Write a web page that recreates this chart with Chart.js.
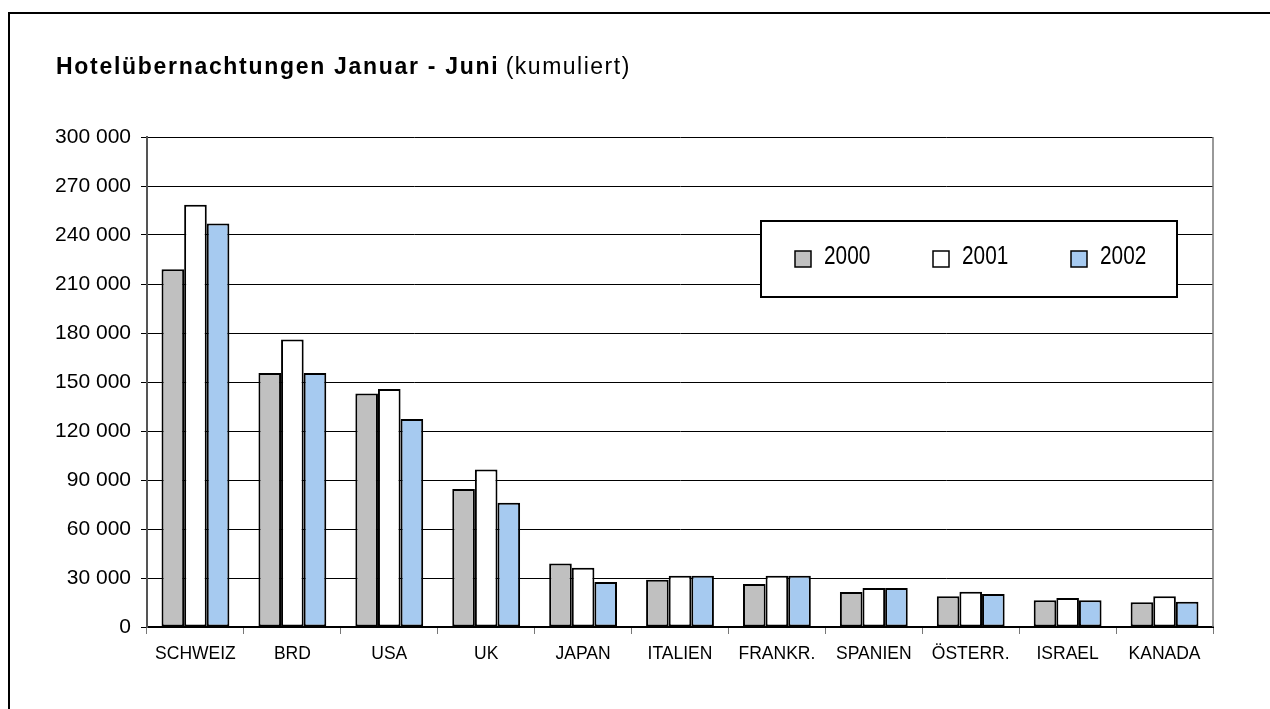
<!DOCTYPE html>
<html>
<head>
<meta charset="utf-8">
<script src="https://cdn.jsdelivr.net/npm/chart.js@4"></script>
<style>
  html, body { margin: 0; padding: 0; background: #fff; overflow: hidden; }
  #wrap { position: relative; width: 1270px; height: 709px; }
  #frame { position: absolute; left: 8px; top: 12px; width: 1400px; height: 900px; border: 2px solid #000; box-sizing: border-box; pointer-events: none; }
  #title { position: absolute; left: 56px; top: 55px; font-family: "Liberation Sans", Arial, sans-serif; font-size: 23px; line-height: 23px; color: #000; white-space: nowrap; }
  #title b { letter-spacing: 1.7px; }
  #title span { letter-spacing: 1.5px; }
  canvas { position: absolute; left: 0; top: 0; }
</style>
</head>
<body>
<div id="wrap">
  <canvas id="c" width="1270" height="709"></canvas>
  <div id="frame"></div>
  <div id="title"><b>Hotelübernachtungen Januar - Juni</b> <span>(kumuliert)</span></div>
</div>
<script>
const categories = ["SCHWEIZ", "BRD", "USA", "UK", "JAPAN", "ITALIEN", "FRANKR.", "SPANIEN", "ÖSTERR.", "ISRAEL", "KANADA"];
const seriesNames = ["2000", "2001", "2002"];
const values2000 = [219000, 155500, 143000, 84500, 38900, 28900, 26400, 21400, 18900, 16400, 15200];
const values2001 = [258500, 176000, 145700, 96500, 36200, 31400, 31400, 23900, 21600, 17700, 18900];
const values2002 = [247000, 155500, 127300, 76000, 27500, 31400, 31400, 23900, 20200, 16400, 15400];
const yTicks = [0, 30000, 60000, 90000, 120000, 150000, 180000, 210000, 240000, 270000, 300000];
const seriesColors = ["#C0C0C0", "#FFFFFF", "#A6CAF0"];

const FONT = '"Liberation Sans", Arial, sans-serif';

function fmt(v) {
  return String(v).replace(/\B(?=(\d{3})+(?!\d))/g, " ");
}

const frameAndLegend = {
  id: "frameAndLegend",
  afterDatasetsDraw(chart) {
    const ctx = chart.ctx;
    const a = chart.chartArea;
    ctx.save();
    // right border of plot area
    ctx.strokeStyle = "#777";
    ctx.lineWidth = 1.5;
    ctx.beginPath();
    ctx.moveTo(a.right, a.top);
    ctx.lineTo(a.right, a.bottom);
    ctx.stroke();
    // legend box
    const bx = a.left + 614, by = a.top + 84, bw = 416, bh = 76;
    ctx.fillStyle = "#fff";
    ctx.fillRect(bx, by, bw, bh);
    ctx.strokeStyle = "#000";
    ctx.lineWidth = 2;
    ctx.strokeRect(bx, by, bw, bh);
    const itemX = [34, 172, 310];
    ctx.textBaseline = "middle";
    ctx.textAlign = "left";
    chart.data.datasets.forEach((ds, i) => {
      const sx = bx + itemX[i], sy = by + 30;
      ctx.fillStyle = ds.backgroundColor;
      ctx.fillRect(sx, sy, 16, 16);
      ctx.strokeStyle = "#000";
      ctx.lineWidth = 1.5;
      ctx.strokeRect(sx, sy, 16, 16);
      ctx.save();
      ctx.translate(sx + 29, sy + 6);
      ctx.scale(0.8, 1);
      ctx.font = "26px " + FONT;
      ctx.fillStyle = "#000";
      ctx.fillText(ds.label, 0, 0);
      ctx.restore();
    });
    ctx.restore();
  }
};

new Chart(document.getElementById("c"), {
  type: "bar",
  data: {
    labels: categories,
    datasets: [
      { label: seriesNames[0], data: values2000, backgroundColor: seriesColors[0] },
      { label: seriesNames[1], data: values2001, backgroundColor: seriesColors[1] },
      { label: seriesNames[2], data: values2002, backgroundColor: seriesColors[2] }
    ]
  },
  options: {
    responsive: false,
    animation: false,
    devicePixelRatio: 1,
    layout: { padding: { left: 0, top: 137, right: 57, bottom: 0 } },
    datasets: {
      bar: {
        borderColor: "#000",
        borderWidth: 2,
        borderSkipped: false,
        categoryPercentage: 0.7,
        barPercentage: 1.0
      }
    },
    plugins: {
      legend: { display: false },
      title: { display: false },
      tooltip: { enabled: false }
    },
    scales: {
      x: {
        afterFit(s) { s.height = 82; },
        grid: { display: true, drawOnChartArea: false, drawTicks: true, tickLength: 7, color: "#777", offset: true },
        border: { display: true, color: "#000", width: 2 },
        ticks: { color: "#000", font: { family: FONT, size: 17.5 }, padding: 10, maxRotation: 0, autoSkip: false }
      },
      y: {
        min: 0,
        max: 300000,
        afterFit(s) { s.width = 147; },
        afterBuildTicks(s) { s.ticks = yTicks.map(v => ({ value: v })); },
        grid: { color: "#000", lineWidth: 1, drawTicks: true, tickLength: 6 },
        border: { display: true, color: "#555", width: 2 },
        ticks: { color: "#000", font: { family: FONT, size: 21 }, padding: 10, callback: v => fmt(v) }
      }
    }
  },
  plugins: [frameAndLegend]
});
</script>
</body>
</html>
